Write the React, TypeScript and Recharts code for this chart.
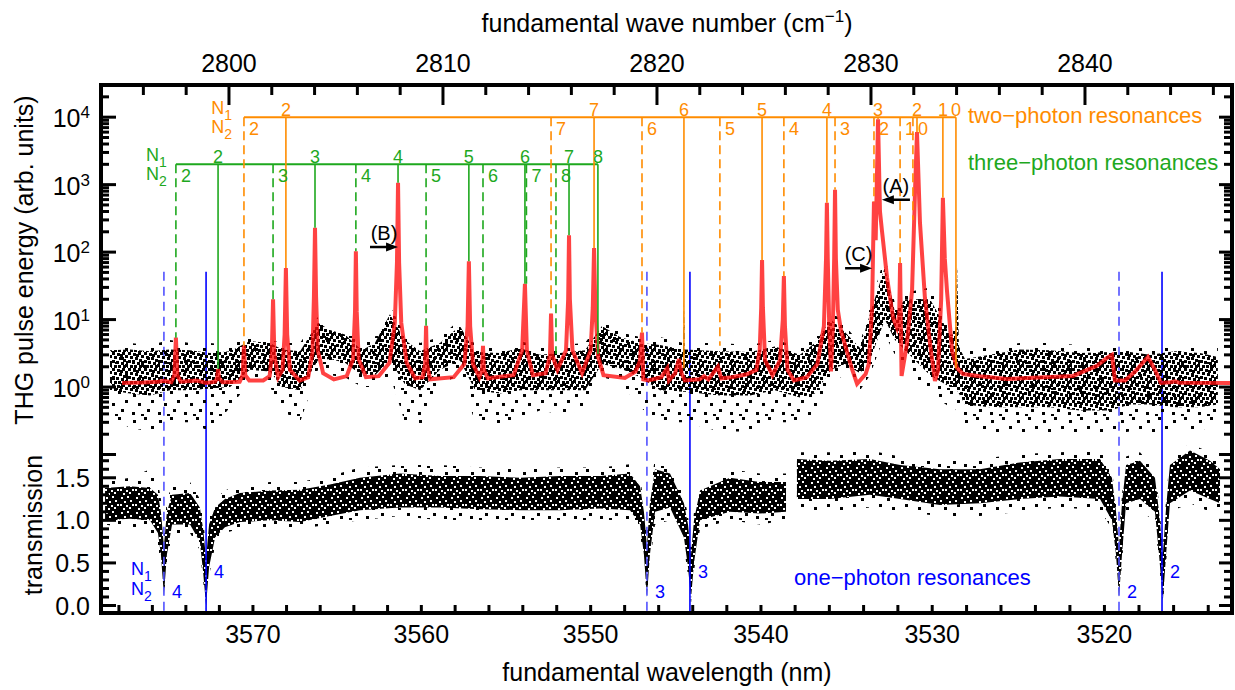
import React from 'react';
import { Area, ComposedChart, Line, ReferenceLine, XAxis, YAxis } from 'recharts';

// ---- axes ----
const TOP_TICKS = [2794, 2796, 2798, 2800, 2802, 2804, 2806, 2808, 2810, 2812, 2814, 2816, 2818, 2820, 2822, 2824, 2826, 2828, 2830, 2832, 2834, 2836, 2838, 2840, 2842, 2844, 2846];
const TOP_LABELS = [2800, 2810, 2820, 2830, 2840];
const WL_TICKS = [3578, 3576, 3574, 3572, 3570, 3568, 3566, 3564, 3562, 3560, 3558, 3556, 3554, 3552, 3550, 3548, 3546, 3544, 3542, 3540, 3538, 3536, 3534, 3532, 3530, 3528, 3526, 3524, 3522, 3520, 3518, 3516, 3514];
const WL_LABELS = [3570, 3560, 3550, 3540, 3530, 3520];
const LOG_TICKS = [0.1, 0.2, 0.3, 0.4, 0.5, 0.6, 0.7, 0.8, 0.9, 1, 2, 3, 4, 5, 6, 7, 8, 9, 10, 20, 30, 40, 50, 60, 70, 80, 90, 100, 200, 300, 400, 500, 600, 700, 800, 900, 1000, 2000, 3000, 4000, 5000, 6000, 7000, 8000, 9000, 10000, 20000];
const LOG_MAJOR = [0.1, 1, 10, 100, 1000, 10000];
const LIN_TICKS = [0, 0.1, 0.2, 0.3, 0.4, 0.5, 0.6, 0.7, 0.8, 0.9, 1, 1.1, 1.2, 1.3, 1.4, 1.5, 1.6, 1.7];
const LIN_MAJOR = [0, 0.5, 1, 1.5];

// ---- THG pulse energy: measured points (band of the scatter) ----
const THG_WN = [2794.44, 2795.37, 2796.31, 2797.24, 2798.18, 2799.11, 2800.05, 2800.98, 2801.92, 2802.48, 2803.32, 2804.16, 2804.72, 2805.42, 2806.21, 2806.82, 2807.52, 2808.22, 2808.93, 2809.86, 2810.79, 2811.5, 2812.66, 2813.6, 2814.53, 2815.47, 2816.64, 2817.43, 2818.27, 2819.21, 2820.14, 2821.22, 2821.26, 2821.3, 2822.94, 2824.35, 2825.51, 2826.68, 2827.38, 2828.13, 2828.79, 2829.49, 2829.95, 2830.65, 2831.12, 2831.59, 2832.76, 2833.69, 2833.93, 2834.02, 2834.11, 2834.39, 2835.56, 2836.96, 2838.36, 2839.77, 2841.17, 2842.1, 2843.04, 2844.21, 2845.37, 2846.21];
const THG_LO = [0.9, 0.8, 0.75, 0.9, 0.9, 0.95, 1.0, 1.8, 1.7, 1.0, 0.9, 2.5, 2.6, 2.3, 1.5, 1.5, 2.5, 1.1, 0.9, 1.8, 2.5, 0.9, 0.8, 0.9, 0.9, 0.9, 0.9, 2.2, 1.9, 1.4, 0.9, 0.85, 0.85, 0.85, 0.75, 0.75, 0.9, 0.7, 0.8, 1.8, 2.2, 1.6, 2.5, 10, 5, 3.5, 1.5, 1.0, 1.0, 0.9, 0.8, 0.55, 0.5, 0.5, 0.5, 0.45, 0.45, 0.55, 0.55, 0.5, 0.5, 0.55];
const THG_HI = [3.5, 3.6, 3.4, 3.6, 3.5, 3.2, 3.4, 4.8, 4.5, 3.6, 3.4, 9, 7, 6, 3.5, 4.5, 12, 5, 3.4, 4.5, 8, 3.3, 3.2, 3.8, 3.0, 3.2, 3.5, 8, 5.5, 4.5, 4.2, 3.6, 19, 3.6, 3.4, 3.3, 4, 3.0, 4.5, 10, 6.5, 3.8, 12, 60, 13, 20, 20, 6, 6, 60, 4, 2.6, 3.0, 3.6, 3.5, 3.2, 3.3, 3.3, 3.0, 3.4, 3.2, 2.8];
const THG_LO_OUT = [0.35, 0.25, 0.22, 0.3, 0.3, 0.22, 0.5, 1.2, 1.0, 0.45, 0.3, 1.8, 1.5, 1.4, 1.0, 1.0, 1.5, 0.3, 0.25, 1.1, 1.5, 0.3, 0.25, 0.35, 0.45, 0.4, 0.45, 1.4, 1.2, 0.5, 0.3, 0.3, 0.3, 0.3, 0.22, 0.22, 0.3, 0.3, 0.4, 1.2, 1.5, 0.9, 1.5, 6, 3, 2, 0.8, 0.5, 0.5, 0.4, 0.4, 0.25, 0.22, 0.2, 0.2, 0.2, 0.2, 0.22, 0.2, 0.25, 0.22, 0.3];
const THG_HI_OUT = [4.5, 4.5, 4.2, 5, 4.5, 4.5, 4.2, 5.5, 5.0, 4.5, 4.5, 11, 8, 7.5, 4.5, 5.5, 16, 6, 4.5, 5.5, 10, 4.2, 4, 4.8, 4, 4.2, 4.5, 10, 6.5, 5.5, 5.5, 4.5, 22, 4.5, 4.5, 4.2, 5, 4, 5.5, 14, 8, 4.5, 15, 90, 17, 25, 30, 8, 8, 70, 5, 3.5, 4, 4.5, 4.5, 4.2, 4.2, 4.2, 4, 4.2, 4.2, 3.8];

// ---- THG fit (red curve) ----
const FIT_WN = [2795.0, 2796.0, 2796.7, 2796.96, 2797.3, 2797.45, 2797.52, 2797.59, 2797.75, 2798.5, 2798.93, 2799.35, 2799.45, 2799.49, 2799.53, 2799.7, 2800.5, 2800.64, 2800.7, 2800.76, 2800.95, 2801.6, 2801.9, 2802.0, 2802.06, 2802.12, 2802.3, 2802.5, 2802.6, 2802.66, 2802.72, 2802.85, 2803.3, 2803.7, 2803.9, 2803.97, 2804.02, 2804.07, 2804.15, 2804.4, 2804.9, 2805.5, 2805.8, 2805.89, 2805.93, 2805.97, 2806.06, 2806.4, 2807.0, 2807.5, 2807.75, 2807.85, 2807.9, 2807.95, 2808.05, 2808.3, 2808.7, 2809.05, 2809.17, 2809.21, 2809.25, 2809.4, 2810.5, 2811.0, 2811.15, 2811.21, 2811.27, 2811.4, 2811.7, 2811.83, 2811.87, 2811.91, 2812.1, 2813.3, 2813.7, 2813.83, 2813.92, 2814.2, 2814.8, 2815.0, 2815.05, 2815.1, 2815.35, 2815.75, 2815.85, 2815.89, 2815.93, 2816.05, 2816.5, 2816.9, 2817.0, 2817.06, 2817.12, 2817.25, 2817.5, 2818.5, 2819.0, 2819.2, 2819.3, 2819.36, 2819.6, 2820.2, 2820.48, 2820.56, 2820.85, 2821.03, 2821.15, 2821.3, 2822.0, 2822.2, 2822.4, 2822.85, 2823.0, 2823.5, 2824.2, 2824.65, 2824.8, 2824.87, 2824.91, 2824.95, 2825.05, 2825.4, 2825.75, 2825.88, 2825.93, 2825.98, 2826.1, 2826.4, 2827.0, 2827.5, 2827.8, 2827.9, 2827.94, 2827.98, 2828.05, 2828.13, 2828.22, 2828.28, 2828.32, 2828.36, 2828.45, 2828.6, 2829.1, 2829.35, 2829.75, 2829.9, 2830.05, 2830.14, 2830.22, 2830.33, 2830.42, 2830.51, 2830.75, 2831.03, 2831.21, 2831.32, 2831.36, 2831.43, 2831.68, 2831.92, 2832.06, 2832.15, 2832.29, 2832.52, 2832.76, 2832.99, 2833.13, 2833.28, 2833.36, 2833.45, 2833.55, 2833.79, 2834.02, 2834.3, 2835.09, 2836.36, 2839.44, 2840.56, 2841.03, 2841.26, 2841.4, 2841.87, 2842.34, 2842.94, 2843.27, 2843.55, 2844.0, 2844.21, 2844.4, 2846.87];
const FIT_V = [1.15, 1.17, 1.2, 1.24, 1.18, 1.5, 5.4, 1.5, 1.2, 1.25, 1.15, 1.2, 1.35, 1.86, 1.35, 1.18, 1.2, 1.5, 4.1, 1.5, 1.25, 1.25, 1.45, 3, 20, 3, 1.4, 1.8, 6, 58, 6, 1.8, 1.25, 1.4, 3.2, 22, 229, 22, 3.5, 1.6, 1.3, 1.45, 2.6, 13, 103, 13, 2.6, 1.4, 1.45, 2.3, 9, 70, 1070, 70, 9, 2.3, 1.35, 1.4, 2.2, 8.1, 2.2, 1.3, 1.4, 2.2, 8, 73, 8, 2.2, 1.4, 1.8, 4.1, 1.8, 1.35, 1.5, 3.5, 34, 3.5, 1.5, 1.6, 3, 12.3, 3, 1.8, 3.5, 20, 178, 20, 3.5, 1.6, 3.5, 15, 115, 15, 2.8, 1.5, 1.36, 1.7, 2.4, 6.4, 1.3, 1.25, 1.4, 1.9, 1.25, 1.6, 2.6, 1.6, 1.25, 1.3, 1.45, 1.3, 2.0, 1.35, 1.4, 1.55, 1.8, 3.5, 15, 76, 15, 2.5, 1.5, 2.5, 10, 44, 8, 1.8, 1.25, 1.4, 2.2, 8, 80, 540, 80, 8, 1.7, 8, 80, 840, 80, 14, 6.8, 1.9, 1.12, 1.56, 2.2, 15, 560, 150, 9300, 400, 212, 42, 10.7, 7.6, 12, 69, 1.46, 4.4, 27, 840, 6000, 270, 21, 4.4, 1.23, 1.73, 20, 640, 80, 27, 3.45, 1.92, 1.56, 1.45, 1.32, 1.46, 2.06, 2.7, 3.0, 1.25, 1.25, 1.7, 2.8, 1.8, 1.15, 1.18, 1.22, 1.16, 1.15];

// ---- transmission (band of the scatter), two pieces: no data between them ----
const TR1_WN = [2794.21, 2795.37, 2796.31, 2796.68, 2796.82, 2796.96, 2797.1, 2797.34, 2798.18, 2798.64, 2798.79, 2798.93, 2799.07, 2799.35, 2799.81, 2800.51, 2801.92, 2803.32, 2804.72, 2806.12, 2807.99, 2809.86, 2811.73, 2813.6, 2815.47, 2817.34, 2818.74, 2819.21, 2819.39, 2819.53, 2819.67, 2819.91, 2820.61, 2821.26, 2821.45, 2821.59, 2821.73, 2822.01, 2823.41, 2824.81, 2826.03];
const TR1_LO = [1.0, 1.02, 1.0, 0.85, 0.6, 0.12, 0.6, 0.95, 0.95, 0.75, 0.4, 0.0, 0.45, 0.8, 0.92, 0.98, 1.0, 0.98, 1.05, 1.12, 1.15, 1.15, 1.13, 1.12, 1.12, 1.14, 1.12, 0.95, 0.6, 0.1, 0.6, 1.1, 1.15, 0.8, 0.45, 0.08, 0.5, 1.0, 1.1, 1.08, 1.1];
const TR1_HI = [1.38, 1.4, 1.38, 1.3, 1.1, 0.7, 1.1, 1.3, 1.32, 1.15, 0.9, 0.55, 0.95, 1.15, 1.25, 1.32, 1.35, 1.36, 1.42, 1.5, 1.55, 1.52, 1.52, 1.5, 1.52, 1.52, 1.55, 1.4, 1.1, 0.7, 1.2, 1.6, 1.55, 1.2, 0.95, 0.6, 1.0, 1.35, 1.5, 1.45, 1.45];
const TR1_LO_OUT = [0.95, 0.9, 0.85, 0.7, 0.5, 0.1, 0.5, 0.85, 0.85, 0.65, 0.3, -0.05, 0.35, 0.7, 0.85, 0.9, 0.92, 0.9, 0.95, 1.0, 1.05, 1.0, 1.0, 1.0, 1.0, 1.0, 1.0, 0.85, 0.5, 0.08, 0.5, 0.95, 1.0, 0.7, 0.35, 0.02, 0.4, 0.9, 1.0, 0.95, 1.0];
const TR1_HI_OUT = [1.45, 1.5, 1.6, 1.45, 1.25, 0.85, 1.25, 1.4, 1.45, 1.25, 1.0, 0.7, 1.05, 1.25, 1.35, 1.42, 1.45, 1.45, 1.52, 1.62, 1.65, 1.65, 1.62, 1.6, 1.62, 1.62, 1.66, 1.5, 1.2, 0.85, 1.3, 1.75, 1.62, 1.3, 1.05, 0.7, 1.1, 1.45, 1.6, 1.55, 1.55];
const TR2_WN = [2826.54, 2828.08, 2829.95, 2831.36, 2833.22, 2835.09, 2836.96, 2838.83, 2840.7, 2841.26, 2841.45, 2841.59, 2841.73, 2841.92, 2842.57, 2843.27, 2843.46, 2843.64, 2843.79, 2843.97, 2844.91, 2845.84, 2846.31];
const TR2_LO = [1.25, 1.25, 1.3, 1.25, 1.18, 1.2, 1.25, 1.28, 1.25, 1.0, 0.6, 0.1, 0.6, 1.2, 1.25, 1.1, 0.6, 0.06, 0.6, 1.2, 1.35, 1.25, 1.2];
const TR2_HI = [1.72, 1.7, 1.72, 1.65, 1.6, 1.6, 1.68, 1.72, 1.72, 1.5, 1.1, 0.7, 1.2, 1.65, 1.7, 1.5, 1.1, 0.6, 1.15, 1.65, 1.82, 1.7, 1.6];
const TR2_LO_OUT = [1.1, 1.1, 1.15, 1.1, 1.05, 1.05, 1.1, 1.15, 1.12, 0.9, 0.5, 0.08, 0.5, 1.1, 1.1, 1.0, 0.5, 0.02, 0.5, 1.1, 1.2, 1.1, 1.1];
const TR2_HI_OUT = [1.8, 1.8, 1.82, 1.75, 1.7, 1.72, 1.78, 1.8, 1.82, 1.6, 1.2, 0.85, 1.3, 1.75, 1.8, 1.6, 1.2, 0.7, 1.25, 1.75, 1.9, 1.8, 1.7];

// ---- resonance assignments (wave numbers), labels, and where each marker ends ----
const TWO_HEADER = 10000;
const TWO_N1_WN = [2802.66, 2817.06, 2821.26, 2824.91, 2827.94, 2830.33, 2832.15, 2833.36, 2833.97];
const TWO_N1_END = [58, 115, 1.9, 76, 540, 9300, 6000, 640, 1.9];
const TWO_N1_LABEL = ['2', '7', '6', '5', '4', '3', '2', '1', '0'];
const TWO_N2_WN = [2800.7, 2815.05, 2819.3, 2822.94, 2825.93, 2828.32, 2830.14, 2831.36, 2831.96];
const TWO_N2_END = [4.1, 12.3, 6.4, 4.1, 44, 840, 560, 69, 300];
const TWO_N2_LABEL = ['2', '7', '6', '5', '4', '3', '2', '1', '0'];

const THREE_HEADER = 2000;
const THREE_N1_WN = [2799.49, 2804.02, 2807.9, 2811.21, 2813.83, 2815.89, 2817.24];
const THREE_N1_END = [1.86, 229, 1070, 73, 34, 178, 3.1];
const THREE_N1_LABEL = ['2', '3', '4', '5', '6', '7', '8'];
const THREE_N2_WN = [2797.52, 2802.06, 2805.93, 2809.21, 2811.87, 2813.9, 2815.28];
const THREE_N2_END = [5.4, 20, 103, 8.1, 4.1, 34, 3.1];
const THREE_N2_LABEL = ['2', '3', '4', '5', '6', '7', '8'];

const ONE_TOP = 3.92;
const ONE_BOTTOM = -0.088;
const ONE_N1_WN = [2798.93, 2821.54, 2843.6];
const ONE_N1_LABEL = ['4', '3', '2'];
const ONE_N2_WN = [2796.96, 2819.53, 2841.59];
const ONE_N2_LABEL = ['4', '3', '2'];

// ---- arrows (A), (B), (C) ----
const ARROW_TEXT = ['(A)', '(B)', '(C)'];
const ARROW_FROM = [2831.82, 2806.59, 2828.79];
const ARROW_TO = [2830.51, 2807.9, 2830.05];
const ARROW_AT = [597, 119, 57.7];

// ---- layout / style ----
const FONT = '"Liberation Sans", Arial, Helvetica, sans-serif';
const ORANGE = '#ff8c00';
const GREEN = '#1ea81e';
const BLUE = '#0000ff';
const BLUE_DASH = '#5252ff';
const RED = '#ff0d0d';
const W = 1235;
const H = 690;
const PLOT = { left: 101, right: 1232, top: 85, bottom: 613 };
// axes are 1px thick (a zero size axis is not drawn), so the margins leave that pixel out
const MARGIN = { top: PLOT.top - 1, right: W - PLOT.right - 1, bottom: H - PLOT.bottom - 1, left: PLOT.left - 1 };
const WN_DOMAIN = [2794.02, 2846.87];
const LOG_DOMAIN = [4.33e-4, 29970];
const LIN_DOMAIN = [-0.088, 6.124];

// speckle textures standing in for the thousands of single points
const DENSE_SPOTS = [[0, 0], [5, 1], [10, 0], [13, 3], [2, 4], [7, 5], [11, 7], [0, 8], [4, 9], [9, 10], [14, 9], [2, 13], [6, 13], [11, 13], [15, 14], [8, 2], [13, 12]];
const SPARSE_SPOTS = [[3, 4], [14, 1], [21, 10], [8, 13], [17, 19], [2, 22], [11, 24]];
const CORE_GAPS = [[1, 2], [7, 1], [4, 6], [10, 5], [0, 9], [6, 10], [9, 12], [12, 9], [3, 13]];

const thgSparse = THG_WN.map((wn, i) => ({ wn, r: [THG_LO_OUT[i], THG_HI_OUT[i]] }));
const thgDense = THG_WN.map((wn, i) => ({ wn, r: [THG_LO[i], THG_HI[i]] }));
const fit = FIT_WN.map((wn, i) => ({ wn, v: FIT_V[i] }));
const tr1Sparse = TR1_WN.map((wn, i) => ({ wn, r: [TR1_LO_OUT[i], TR1_HI_OUT[i]] }));
const tr1Dense = TR1_WN.map((wn, i) => ({ wn, r: [TR1_LO[i], TR1_HI[i]] }));
const tr2Sparse = TR2_WN.map((wn, i) => ({ wn, r: [TR2_LO_OUT[i], TR2_HI_OUT[i]] }));
const tr2Dense = TR2_WN.map((wn, i) => ({ wn, r: [TR2_LO[i], TR2_HI[i]] }));

const txt = { fontFamily: FONT };

function TopTick(props: any) {
  const { x, payload } = props;
  const major = TOP_LABELS.includes(payload.value);
  return (
    <g>
      <line x1={x} x2={x} y1={PLOT.top} y2={PLOT.top + (major ? 20 : 10)} stroke="#000" strokeWidth={3} />
      {major && (
        <text x={x} y={72} textAnchor="middle" fontSize={25} fill="#000" style={txt}>
          {payload.value}
        </text>
      )}
    </g>
  );
}

function BottomTick(props: any) {
  const { x, payload } = props;
  const wl = Math.round(1e7 / payload.value);
  const major = WL_LABELS.includes(wl);
  return (
    <g>
      <line x1={x} x2={x} y1={PLOT.bottom} y2={PLOT.bottom - 8} stroke="#000" strokeWidth={3} />
      {major && (
        <text x={x} y={643} textAnchor="middle" fontSize={25} fill="#000" style={txt}>
          {wl}
        </text>
      )}
    </g>
  );
}

function LogTick(props: any) {
  const { y, payload, side } = props;
  const major = LOG_MAJOR.includes(payload.value);
  const len = major ? (side === 'left' ? 15 : 13) : 8;
  const x0 = side === 'left' ? PLOT.left : PLOT.right;
  const x1 = side === 'left' ? x0 + len : x0 - len;
  const exp = Math.round(Math.log10(payload.value));
  return (
    <g>
      <line x1={x0} x2={x1} y1={y} y2={y} stroke="#000" strokeWidth={3} />
      {side === 'left' && major && payload.value >= 1 && (
        <text x={90} y={y + 10} textAnchor="end" fontSize={25} fill="#000" style={txt}>
          10
          <tspan dy={-9} fontSize={17}>
            {exp}
          </tspan>
        </text>
      )}
    </g>
  );
}

function LinTick(props: any) {
  const { y, payload, side } = props;
  const major = LIN_MAJOR.includes(payload.value);
  const len = major ? (side === 'left' ? 15 : 13) : 8;
  const x0 = side === 'left' ? PLOT.left : PLOT.right;
  const x1 = side === 'left' ? x0 + len : x0 - len;
  return (
    <g>
      <line x1={x0} x2={x1} y1={y} y2={y} stroke="#000" strokeWidth={3} />
      {side === 'left' && major && (
        <text x={90} y={y + 9} textAnchor="end" fontSize={25} fill="#000" style={txt}>
          {payload.value.toFixed(1)}
        </text>
      )}
    </g>
  );
}

// number next to a resonance marker
function ResNumber(props: any) {
  const { viewBox, text, kind, color } = props;
  if (!viewBox) return null;
  const { x, y, height } = viewBox;
  let tx = x + 8;
  let ty = y + height - 15;
  let anchor = 'start';
  if (kind === 'n1') {
    tx = x;
    ty = y - 1;
    anchor = 'middle';
  } else if (kind === 'n2') {
    tx = x + 5;
    ty = y + 18;
  } else if (kind === 'b1') {
    ty = y + height - 35;
  }
  return (
    <text x={tx} y={ty} textAnchor={anchor} fill={color} fontSize={18} style={txt}>
      {text}
    </text>
  );
}

function NRows(props: { x: number; y1: number; y2: number; color: string }) {
  const { x, y1, y2, color } = props;
  return (
    <g fill={color} fontSize={18} style={txt}>
      <text x={x} y={y1} textAnchor="end">
        N<tspan dy={6} fontSize={14}>1</tspan>
      </text>
      <text x={x} y={y2} textAnchor="end">
        N<tspan dy={6} fontSize={14}>2</tspan>
      </text>
    </g>
  );
}

function HeaderLabel(props: any) {
  const { viewBox, color, gap } = props;
  if (!viewBox) return null;
  return <NRows x={viewBox.x - gap} y1={viewBox.y - 3} y2={viewBox.y + 16} color={color} />;
}

function BlueFirstLabel(props: any) {
  const { viewBox } = props;
  if (!viewBox) return null;
  const bottom = viewBox.y + viewBox.height;
  return (
    <g>
      <NRows x={viewBox.x - 12} y1={bottom - 38} y2={bottom - 18} color={BLUE} />
      <ResNumber viewBox={viewBox} text={ONE_N2_LABEL[0]} kind="b2" color={BLUE} />
    </g>
  );
}

function arrowShape(p: any) {
  const { x1, y1, x2, y2 } = p;
  const dir = Math.sign(x2 - x1);
  return (
    <g>
      <line x1={x1} y1={y1} x2={x2 - dir * 8} y2={y2} stroke="#000" strokeWidth={2.5} />
      <polygon points={`${x2},${y2} ${x2 - dir * 12},${y2 - 4.5} ${x2 - dir * 12},${y2 + 4.5}`} fill="#000" />
    </g>
  );
}

function ArrowLabel(props: any) {
  const { viewBox, text } = props;
  if (!viewBox) return null;
  return (
    <text x={viewBox.x + viewBox.width / 2} y={viewBox.y - 7} textAnchor="middle" fontSize={20} fill="#000" style={txt}>
      {text}
    </text>
  );
}

function markers(
  wns: number[],
  ends: number[],
  labels: string[],
  top: number,
  color: string,
  dashed: boolean,
  kind: string,
  prefix: string,
) {
  return wns.map((wn, i) => (
    <ReferenceLine
      key={`${prefix}-${i}`}
      xAxisId="x"
      yAxisId="l"
      ifOverflow="visible"
      segment={[
        { x: wn, y: top },
        { x: wn, y: ends[i] },
      ]}
      stroke={color}
      strokeWidth={1.6}
      strokeDasharray={dashed ? '9 5' : undefined}
      label={(p: any) => <ResNumber {...p} text={labels[i]} kind={kind} color={color} />}
    />
  ));
}

function xAxisProps(orientation: 'top' | 'bottom') {
  return {
    xAxisId: 'x',
    dataKey: 'wn',
    type: 'number' as const,
    orientation,
    domain: WN_DOMAIN,
    allowDataOverflow: true,
    interval: 0 as const,
    height: 1,
    axisLine: false,
    tickLine: false,
    tickSize: 0,
    tickMargin: 0,
  };
}

function ThgPanel() {
  const yCommon = {
    type: 'number' as const,
    scale: 'log' as const,
    domain: LOG_DOMAIN,
    allowDataOverflow: true,
    ticks: LOG_TICKS,
    interval: 0 as const,
    width: 1,
    axisLine: false,
    tickLine: false,
    tickSize: 0,
    tickMargin: 0,
  };
  return (
    <ComposedChart width={W} height={H} margin={MARGIN}>
      <XAxis {...xAxisProps('top')} ticks={TOP_TICKS} tick={(p: any) => <TopTick {...p} />} />
      <YAxis yAxisId="l" orientation="left" {...yCommon} tick={(p: any) => <LogTick {...p} side="left" />} />
      <YAxis yAxisId="r" orientation="right" {...yCommon} tick={(p: any) => <LogTick {...p} side="right" />} />
      <Area xAxisId="x" yAxisId="l" data={thgSparse} dataKey="r" type="linear" stroke="none" fill="url(#dotsSparse)" fillOpacity={1} isAnimationActive={false} dot={false} activeDot={false} />
      <Area xAxisId="x" yAxisId="l" data={thgDense} dataKey="r" type="linear" stroke="none" fill="url(#dotsDense)" fillOpacity={1} isAnimationActive={false} dot={false} activeDot={false} />
      <Line xAxisId="x" yAxisId="l" data={fit} dataKey="v" type="linear" stroke={RED} strokeOpacity={0.78} strokeWidth={4} dot={false} activeDot={false} isAnimationActive={false} />
      <ReferenceLine
        xAxisId="x"
        yAxisId="l"
        ifOverflow="visible"
        segment={[
          { x: TWO_N2_WN[0], y: TWO_HEADER },
          { x: TWO_N1_WN[TWO_N1_WN.length - 1], y: TWO_HEADER },
        ]}
        stroke={ORANGE}
        strokeWidth={2}
        label={(p: any) => <HeaderLabel {...p} color={ORANGE} gap={12} />}
      />
      <ReferenceLine
        xAxisId="x"
        yAxisId="l"
        ifOverflow="visible"
        segment={[
          { x: THREE_N2_WN[0], y: THREE_HEADER },
          { x: THREE_N1_WN[THREE_N1_WN.length - 1], y: THREE_HEADER },
        ]}
        stroke={GREEN}
        strokeWidth={2}
        label={(p: any) => <HeaderLabel {...p} color={GREEN} gap={9} />}
      />
      {markers(TWO_N1_WN, TWO_N1_END, TWO_N1_LABEL, TWO_HEADER, ORANGE, false, 'n1', 'o1')}
      {markers(TWO_N2_WN, TWO_N2_END, TWO_N2_LABEL, TWO_HEADER, ORANGE, true, 'n2', 'o2')}
      {markers(THREE_N1_WN, THREE_N1_END, THREE_N1_LABEL, THREE_HEADER, GREEN, false, 'n1', 'g1')}
      {markers(THREE_N2_WN, THREE_N2_END, THREE_N2_LABEL, THREE_HEADER, GREEN, true, 'n2', 'g2')}
      {ARROW_TEXT.map((t, i) => (
        <ReferenceLine
          key={`arrow-${i}`}
          xAxisId="x"
          yAxisId="l"
          ifOverflow="visible"
          segment={[
            { x: ARROW_FROM[i], y: ARROW_AT[i] },
            { x: ARROW_TO[i], y: ARROW_AT[i] },
          ]}
          stroke="#000"
          shape={arrowShape}
          label={(p: any) => <ArrowLabel {...p} text={t} />}
        />
      ))}
    </ComposedChart>
  );
}

function TransmissionPanel() {
  const yCommon = {
    type: 'number' as const,
    domain: LIN_DOMAIN,
    allowDataOverflow: true,
    ticks: LIN_TICKS,
    interval: 0 as const,
    width: 1,
    axisLine: false,
    tickLine: false,
    tickSize: 0,
    tickMargin: 0,
  };
  const band = (data: any[], fill: string) => (
    <Area xAxisId="x" yAxisId="l" data={data} dataKey="r" type="linear" stroke="none" fill={fill} fillOpacity={1} isAnimationActive={false} dot={false} activeDot={false} />
  );
  return (
    <ComposedChart width={W} height={H} margin={MARGIN}>
      <XAxis {...xAxisProps('bottom')} ticks={WL_TICKS.map((wl) => 1e7 / wl)} tick={(p: any) => <BottomTick {...p} />} />
      <YAxis yAxisId="l" orientation="left" {...yCommon} tick={(p: any) => <LinTick {...p} side="left" />} />
      <YAxis yAxisId="r" orientation="right" {...yCommon} tick={(p: any) => <LinTick {...p} side="right" />} />
      {band(tr1Sparse, 'url(#dotsSparse)')}
      {band(tr1Dense, 'url(#dotsCore)')}
      {band(tr2Sparse, 'url(#dotsSparse)')}
      {band(tr2Dense, 'url(#dotsCore)')}
      {ONE_N2_WN.map((wn, i) => (
        <ReferenceLine
          key={`b2-${i}`}
          xAxisId="x"
          yAxisId="l"
          ifOverflow="visible"
          segment={[
            { x: wn, y: ONE_TOP },
            { x: wn, y: ONE_BOTTOM },
          ]}
          stroke={BLUE_DASH}
          strokeWidth={1.6}
          strokeDasharray="9 6"
          label={
            i === 0
              ? (p: any) => <BlueFirstLabel {...p} />
              : (p: any) => <ResNumber {...p} text={ONE_N2_LABEL[i]} kind="b2" color={BLUE} />
          }
        />
      ))}
      {ONE_N1_WN.map((wn, i) => (
        <ReferenceLine
          key={`b1-${i}`}
          xAxisId="x"
          yAxisId="l"
          ifOverflow="visible"
          segment={[
            { x: wn, y: ONE_TOP },
            { x: wn, y: ONE_BOTTOM },
          ]}
          stroke={BLUE}
          strokeWidth={1.6}
          label={(p: any) => <ResNumber {...p} text={ONE_N1_LABEL[i]} kind="b1" color={BLUE} />}
        />
      ))}
    </ComposedChart>
  );
}

export default function App() {
  const layer: React.CSSProperties = { position: 'absolute', left: 0, top: 0 };
  return (
    <div style={{ position: 'absolute', left: 0, top: 0, width: W, height: H, background: '#fff', fontFamily: FONT }}>
      <svg width={0} height={0} style={{ position: 'absolute' }}>
        <defs>
          <pattern id="dotsDense" width={16} height={16} patternUnits="userSpaceOnUse">
            {DENSE_SPOTS.map(([x, y], i) => (
              <rect key={i} x={x} y={y} width={3} height={3} fill="#000" />
            ))}
          </pattern>
          <pattern id="dotsSparse" width={26} height={26} patternUnits="userSpaceOnUse">
            {SPARSE_SPOTS.map(([x, y], i) => (
              <rect key={i} x={x} y={y} width={3} height={3} fill="#000" />
            ))}
          </pattern>
          <pattern id="dotsCore" width={15} height={15} patternUnits="userSpaceOnUse">
            <rect x={0} y={0} width={15} height={15} fill="#000" />
            {CORE_GAPS.map(([x, y], i) => (
              <rect key={i} x={x} y={y} width={2} height={2} fill="#fff" />
            ))}
          </pattern>
        </defs>
      </svg>
      <div style={layer}>
        <TransmissionPanel />
      </div>
      <div style={layer}>
        <ThgPanel />
      </div>
      <svg width={W} height={H} style={{ ...layer, pointerEvents: 'none' }}>
        <rect x={PLOT.left} y={PLOT.top} width={PLOT.right - PLOT.left} height={PLOT.bottom - PLOT.top} fill="none" stroke="#000" strokeWidth={4} />
        <g fill="#000" fontSize={25} style={txt}>
          <text x={667} y={32} textAnchor="middle">
            fundamental wave number (cm<tspan dy={-10} fontSize={17}>−1</tspan>
            <tspan dy={10}>)</tspan>
          </text>
          <text x={667} y={681} textAnchor="middle">
            fundamental wavelength (nm)
          </text>
          <text x={33} y={260} textAnchor="middle" transform="rotate(-90 33 260)">
            THG pulse energy (arb. units)
          </text>
          <text x={42} y={525} textAnchor="middle" transform="rotate(-90 42 525)">
            transmission
          </text>
        </g>
        <g fontSize={22} style={txt}>
          <text x={968} y={123} fill={ORANGE}>
            two−photon resonances
          </text>
          <text x={968} y={170} fill={GREEN}>
            three−photon resonances
          </text>
          <text x={794} y={585} fill={BLUE}>
            one−photon resonances
          </text>
        </g>
      </svg>
    </div>
  );
}
